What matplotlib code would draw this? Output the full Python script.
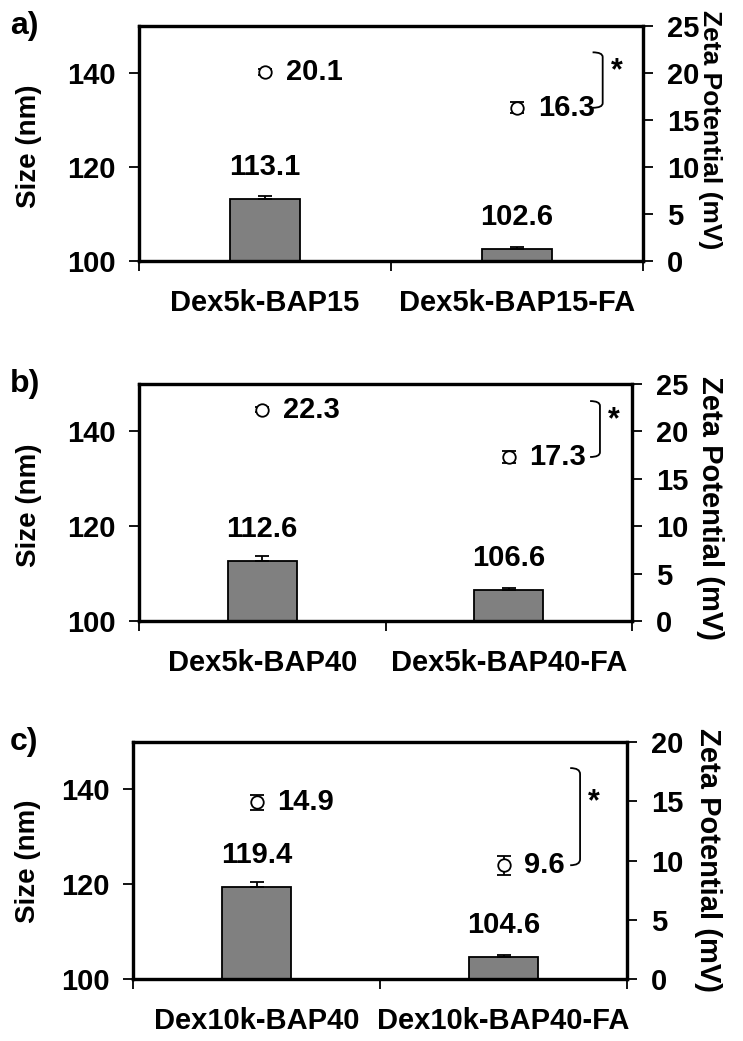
import numpy as np
import matplotlib
matplotlib.use("Agg")
import matplotlib.pyplot as plt
from matplotlib.path import Path
from matplotlib.patches import PathPatch
import matplotlib.transforms as mtransforms

plt.rcParams['font.family'] = ['Liberation Sans', 'DejaVu Sans']
plt.rcParams['font.weight'] = 'bold'

# data for the three panels
panel_tags = ['a)', 'b)', 'c)']
categories = [['Dex5k-BAP15', 'Dex5k-BAP15-FA'],
              ['Dex5k-BAP40', 'Dex5k-BAP40-FA'],
              ['Dex10k-BAP40', 'Dex10k-BAP40-FA']]
size_nm = [[113.1, 102.6], [112.6, 106.6], [119.4, 104.6]]
size_err = [[0.8, 0.4], [1.1, 0.4], [1.1, 0.4]]
zeta_mv = [[20.1, 16.3], [22.3, 17.3], [14.9, 9.6]]
zeta_err = [[0.3, 0.6], [0.3, 0.6], [0.6, 0.8]]
zeta_max = [25, 25, 20]
bracket_top = [22.2, 23.2, 17.8]   # bracket spans from here down to the FA value

# layout (pixels: left, top, right, bottom of each plot box)
W, H = 743, 1041
boxes = [(139, 26, 643, 261), (139, 384, 632, 621), (133, 742, 627, 979)]
bracket_x = [0.92, 0.935, 0.905]
left_lab = [(-0.218, 0.49), (-0.223, 0.49), (-0.212, 0.498)]
right_lab = [(1.132, 0.56), (1.158, 0.475), (1.164, 0.504)]
right_fs = [19, 21, 21]

fs = 21

fig = plt.figure(figsize=(W / 100, H / 100), dpi=100)

for i in range(3):
    x0, y0, x1, y1 = boxes[i]
    ax = fig.add_axes([x0 / W, 1 - y1 / H, (x1 - x0) / W, (y1 - y0) / H])
    ax2 = ax.twinx()

    xc = np.array([0.5, 1.5])
    ax.bar(xc, size_nm[i], width=0.28, bottom=0, color='#808080',
           edgecolor='black', linewidth=1.3, zorder=2)
    ax.errorbar(xc, size_nm[i], yerr=[[0, 0], size_err[i]], fmt='none',
                ecolor='black', elinewidth=1.3, capsize=5, capthick=1.3, zorder=3)
    for x, v in zip(xc, size_nm[i]):
        ax.annotate(f'{v:.1f}', (x, v), xytext=(0, 13), textcoords='offset points',
                    ha='center', va='bottom', fontsize=21, fontweight='bold')

    ax.set_xlim(0, 2)
    ax.set_ylim(100, 150)
    ax.set_yticks([100, 120, 140])
    ax.set_xticks([0, 1, 2])
    ax.set_xticklabels([])
    ax.set_xticks(xc, minor=True)
    ax.set_xticklabels(categories[i], minor=True)
    ax.tick_params(axis='x', which='minor', length=0, pad=20, labelsize=fs)
    ax.tick_params(axis='x', which='major', direction='out', length=7.5, width=1.3)
    ax.tick_params(axis='y', direction='out', length=7.5, width=1.3, pad=9,
                   labelsize=fs)
    ax.set_ylabel('Size (nm)', fontsize=20, fontweight='bold',
                  ha='center', va='center')
    ax.yaxis.set_label_coords(*left_lab[i])

    ax2.errorbar(xc, zeta_mv[i], yerr=zeta_err[i], fmt='o', ms=9, mfc='white',
                 mec='black', mew=1.3, ecolor='black', elinewidth=1.3,
                 capsize=5, capthick=1.3, zorder=4)
    for x, v in zip(xc, zeta_mv[i]):
        ax2.annotate(f'{v:.1f}', (x, v), xytext=(15, 0), textcoords='offset points',
                     ha='left', va='center', fontsize=21, fontweight='bold')
    ax2.set_ylim(0, zeta_max[i])
    ax2.set_yticks(np.arange(0, zeta_max[i] + 1, 5))
    ax2.tick_params(axis='y', direction='out', length=7.5, width=1.3, pad=10,
                    labelsize=fs)
    ax2.set_ylabel('Zeta Potential (mV)', fontsize=right_fs[i], fontweight='bold',
                   rotation=270, ha='center', va='center')
    ax2.yaxis.set_label_coords(*right_lab[i])

    for a in (ax, ax2):
        for s in a.spines.values():
            s.set_linewidth(2.3)

    # significance bracket
    top = bracket_top[i]
    bot = zeta_mv[i][1]
    bx = bracket_x[i]
    dx = 0.02
    dy = 0.5
    trans = mtransforms.blended_transform_factory(ax2.transAxes, ax2.transData)
    verts = [(bx - dx, top), (bx, top), (bx, top - dy),
             (bx, bot + dy),
             (bx, bot), (bx - dx, bot)]
    codes = [Path.MOVETO, Path.CURVE3, Path.CURVE3, Path.LINETO,
             Path.CURVE3, Path.CURVE3]
    ax2.add_patch(PathPatch(Path(verts, codes), transform=trans, fill=False,
                            lw=1.3, edgecolor='black', clip_on=False))
    ax2.text(bx + 0.028, top - 0.35 * (top - bot), '*', transform=trans,
             ha='center', va='center', fontsize=22, fontweight='bold')

    fig.text(10 / W, 1 - y0 / H, panel_tags[i], ha='left', va='center',
             fontsize=23, fontweight='bold')

fig.savefig('out.png', dpi=100)
